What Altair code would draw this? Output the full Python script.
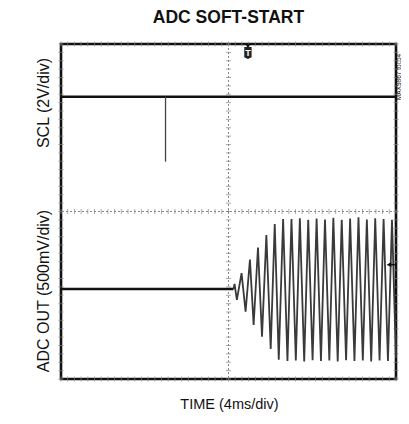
import altair as alt
import numpy as np
import pandas as pd

# ---- data (in screen divisions: x 0..10, y 0..8) ----
scl_x = [0.0, 10.0]
scl_y = [6.74, 6.74]
glitch_x = [3.12]
glitch_top = [6.74]
glitch_bottom = [5.19]

adc_flat_x = [0.0, 5.15]
adc_flat_y = [2.15, 2.15]

adc_x = [5.15, 5.18, 5.25, 5.39, 5.51, 5.64, 5.75, 5.88, 6.00, 6.13, 6.26, 6.38, 6.50, 6.63, 6.76,
         6.88, 7.01, 7.13, 7.26, 7.38, 7.51, 7.63, 7.76, 7.88, 8.01, 8.13, 8.26, 8.38, 8.51,
         8.63, 8.76, 8.88, 9.01, 9.13, 9.26, 9.38, 9.51, 9.63, 9.76, 9.88, 10.0]
adc_y = [2.15, 2.27, 1.89, 2.53, 1.61, 2.85, 1.29, 3.14, 1.01, 3.44, 0.72, 3.70, 0.46, 3.82, 0.43,
         3.82, 0.44, 3.84, 0.42, 3.80, 0.45, 3.83, 0.43, 3.81, 0.44, 3.85, 0.42, 3.80, 0.45,
         3.83, 0.43, 3.86, 0.44, 3.81, 0.42, 3.84, 0.44, 3.82, 0.43, 3.80, 0.50]

trigger_x = [5.58]
ground_y = [2.73]

title_text = "ADC SOFT-START"
x_title = "TIME (4ms/div)"
y_labels = ["SCL (2V/div)", "ADC OUT (500mV/div)"]
tag_text = "MAX9867 toc54"

FONT = "Liberation Sans"
W, H = 335, 335
xs = alt.Scale(domain=[0, 10], nice=False, zero=False)
ys = alt.Scale(domain=[0, 8], nice=False, zero=False)

x_axis = alt.Axis(values=[1, 2, 3, 4, 6, 7, 8, 9], grid=True, gridDash=[1.3, 7.08], gridColor="#8a8a8a",
                  gridWidth=1, labels=False, ticks=False, domain=False, title=None)
y_axis = alt.Axis(values=[1, 2, 3, 5, 6, 7], grid=True, gridDash=[1.3, 5.4], gridColor="#8a8a8a",
                  gridWidth=1, labels=False, ticks=False, domain=False, title=None)

center_v = alt.Chart(pd.DataFrame({"x": [5]})).mark_rule(color="#888", strokeDash=[2, 2], strokeWidth=1).encode(
    x=alt.X("x:Q", scale=xs, axis=x_axis))
center_h = alt.Chart(pd.DataFrame({"y": [4]})).mark_rule(color="#888", strokeDash=[2, 2], strokeWidth=1).encode(
    y=alt.Y("y:Q", scale=ys, axis=y_axis))

minor_x = np.round(np.arange(0, 10.001, 0.2), 2)
minor_y = np.round(np.arange(0, 8.001, 0.2), 2)

tick_h_df = pd.DataFrame({"x": np.concatenate([minor_x, minor_x, minor_x]),
                          "y": [4.0] * len(minor_x) + [0.0] * len(minor_x) + [8.0] * len(minor_x)})
tick_v_df = pd.DataFrame({"y": np.concatenate([minor_y, minor_y, minor_y]),
                          "x": [5.0] * len(minor_y) + [0.0] * len(minor_y) + [10.0] * len(minor_y)})

ticks_on_h = alt.Chart(tick_h_df).mark_tick(orient="vertical", size=5, thickness=1, color="#888").encode(
    x=alt.X("x:Q", scale=xs, axis=None), y=alt.Y("y:Q", scale=ys, axis=None))
ticks_on_v = alt.Chart(tick_v_df).mark_tick(orient="horizontal", size=5, thickness=1, color="#888").encode(
    x=alt.X("x:Q", scale=xs, axis=None), y=alt.Y("y:Q", scale=ys, axis=None))

scl = alt.Chart(pd.DataFrame({"x": scl_x, "y": scl_y})).mark_line(color="#111", strokeWidth=2.6).encode(
    x=alt.X("x:Q", scale=xs, axis=None), y=alt.Y("y:Q", scale=ys, axis=None))
glitch = alt.Chart(pd.DataFrame({"x": glitch_x, "y": glitch_top, "y2": glitch_bottom})).mark_rule(
    color="#444", strokeWidth=1.3).encode(
    x=alt.X("x:Q", scale=xs, axis=None), y=alt.Y("y:Q", scale=ys, axis=None), y2="y2:Q")

adc_flat = alt.Chart(pd.DataFrame({"x": adc_flat_x, "y": adc_flat_y})).mark_line(color="#111", strokeWidth=2.6).encode(
    x=alt.X("x:Q", scale=xs, axis=None), y=alt.Y("y:Q", scale=ys, axis=None))
adc_wave = alt.Chart(pd.DataFrame({"x": adc_x, "y": adc_y, "o": list(range(len(adc_x)))})).mark_line(
    color="#3a3a3a", strokeWidth=1.8).encode(
    x=alt.X("x:Q", scale=xs, axis=None), y=alt.Y("y:Q", scale=ys, axis=None), order="o:Q")

trig_df = pd.DataFrame({"x": trigger_x})
trig_tri = alt.Chart(trig_df).mark_point(shape="triangle-down", filled=True, size=30, color="#111", opacity=1).encode(
    x=alt.X("x:Q", scale=xs, axis=None), y=alt.value(2))
trig_box = alt.Chart(trig_df).mark_point(shape="M-0.6,-1 L0.6,-1 L0.6,0.7 L0,1 L-0.6,0.7 Z", filled=True,
                                          size=150, color="#222", opacity=1).encode(
    x=alt.X("x:Q", scale=xs, axis=None), y=alt.value(9))
trig_t = alt.Chart(trig_df).mark_text(text="T", color="white", fontSize=9, fontWeight="bold", font=FONT,
                                      baseline="middle").encode(
    x=alt.X("x:Q", scale=xs, axis=None), y=alt.value(8.5))

gnd_df = pd.DataFrame({"y": ground_y})
gnd_arrow = alt.Chart(gnd_df).mark_point(shape="triangle-left", filled=True, size=28, color="#111", opacity=1).encode(
    x=alt.value(W - 7), y=alt.Y("y:Q", scale=ys, axis=None))
gnd_line = alt.Chart(gnd_df).mark_rule(color="#111", strokeWidth=1.5).encode(
    x=alt.value(W - 7), x2=alt.value(W - 1), y=alt.Y("y:Q", scale=ys, axis=None))

lbl_df = pd.DataFrame({"t": y_labels, "py": [59, 247]})
ylabels = alt.Chart(lbl_df).mark_text(angle=270, font=FONT, fontSize=16, color="#111", baseline="middle",
                                      align="center").encode(
    text="t:N", x=alt.value(-17), y=alt.Y("py:Q", scale=None, axis=None))

xlabel = alt.Chart(pd.DataFrame({"t": [x_title]})).mark_text(font=FONT, fontSize=14.5, color="#111",
                                                             baseline="middle", align="center").encode(
    text="t:N", x=alt.value(168.5), y=alt.value(361))

tag = alt.Chart(pd.DataFrame({"t": [tag_text]})).mark_text(angle=270, font=FONT, fontSize=6.5, color="#111",
                                                          baseline="alphabetic", align="center").encode(
    text="t:N", x=alt.value(W + 4.6), y=alt.value(33))

chart = alt.layer(
    center_v, center_h, ticks_on_h, ticks_on_v,
    scl, glitch, adc_flat, adc_wave,
    trig_tri, trig_box, trig_t, gnd_arrow, gnd_line, ylabels, xlabel, tag,
).properties(
    width=W, height=H,
    title=alt.TitleParams(title_text, font=FONT, fontSize=17.5, fontWeight="bold", anchor="middle",
                          color="#111", offset=15.5),
    autosize=alt.AutoSizeParams(type="none"),
    padding={"left": 53, "top": 36, "right": 5, "bottom": 37},
    background="white",
).configure_view(stroke="#111", strokeWidth=2.6)

chart.save("out.html", embed_options={"renderer": "svg", "actions": False})
